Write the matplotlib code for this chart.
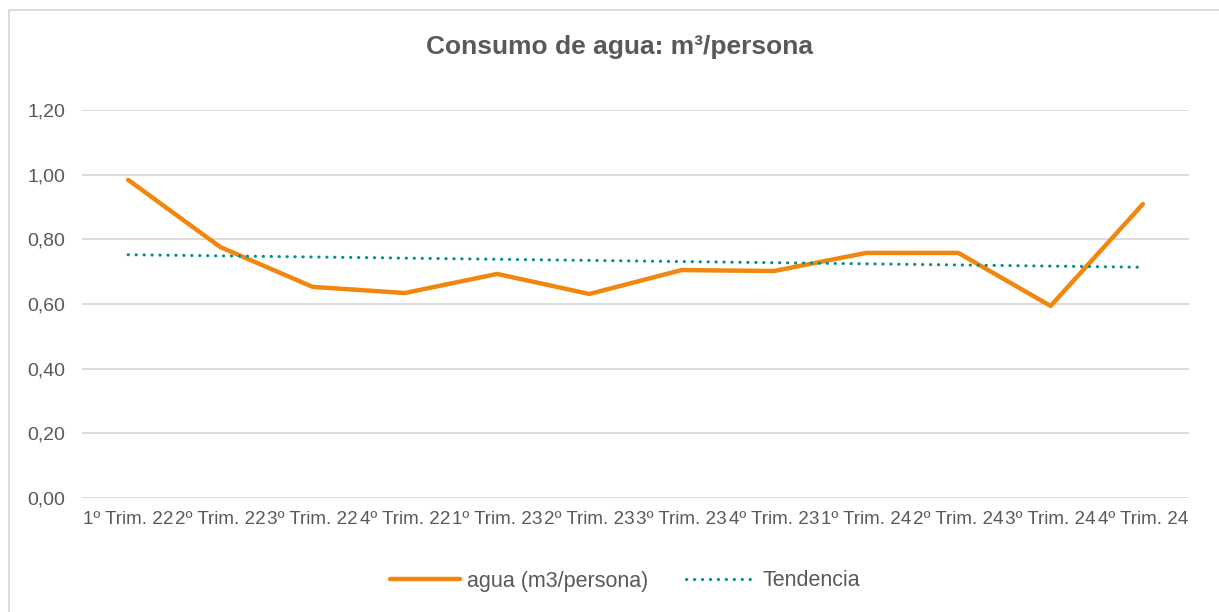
import numpy as np
import matplotlib.pyplot as plt
from matplotlib.patches import Rectangle
from matplotlib.ticker import FuncFormatter

plt.rcParams['font.family'] = ['Liberation Sans', 'DejaVu Sans']

# datos
trimestres = ['1º Trim. 22', '2º Trim. 22', '3º Trim. 22', '4º Trim. 22',
              '1º Trim. 23', '2º Trim. 23', '3º Trim. 23', '4º Trim. 23',
              '1º Trim. 24', '2º Trim. 24', '3º Trim. 24', '4º Trim. 24']
agua = [0.984, 0.776, 0.653, 0.634, 0.693, 0.631, 0.705, 0.702, 0.758, 0.758, 0.594, 0.909]

x = np.arange(len(trimestres))
# linea de tendencia lineal (como Excel)
coef = np.polyfit(x, agua, 1)
tendencia = np.polyval(coef, x)

text_col = '#595959'
fig = plt.figure(figsize=(12.19, 6.12), dpi=100)
ax = fig.add_axes([82/1219, 114/612, (1189-82)/1219, (498-110)/612])

ax.plot(x, agua, color='#F2870F', linewidth=3.2, solid_joinstyle='round',
        solid_capstyle='round', label='agua (m3/persona)', zorder=3)
ax.plot(x, tendencia, color='#00918A', linewidth=2.2, linestyle=(0, (0.1, 2.5)),
        dash_capstyle='round', label='Tendencia', zorder=3)

ax.set_xlim(-0.5, len(trimestres) - 0.5)
ax.set_ylim(0, 1.2)
ax.set_yticks(np.arange(0, 1.21, 0.2))
ax.yaxis.set_major_formatter(FuncFormatter(lambda v, p: '{:.2f}'.format(v).replace('.', ',')))
ax.set_xticks(x)
ax.set_xticklabels(trimestres)
ax.tick_params(axis='both', length=0, labelsize=14, labelcolor=text_col)
ax.tick_params(axis='y', pad=12)
ax.tick_params(axis='x', pad=9, labelsize=13.6)
ax.grid(axis='y', color='#D9D9D9', linewidth=1.3)
ax.set_axisbelow(True)
for s in ax.spines.values():
    s.set_visible(False)

fig.text(620/1219, 1 - 47/612, 'Consumo de agua: m³/persona', ha='center', va='center',
         fontsize=19, fontweight='bold', color=text_col)

fig.legend(loc='center', bbox_to_anchor=(625/1219, 1 - 581/612), ncol=2, frameon=False,
           fontsize=15.5, labelcolor=text_col, handlelength=3.25, columnspacing=1.75,
           handletextpad=0.3)

# borde del grafico
fig.patches.append(Rectangle((9/1219, -0.1), 1.2, 1 - 10/612 + 0.1, transform=fig.transFigure,
                             fill=False, edgecolor='#D9D9D9', linewidth=1.3))

fig.savefig('out.png', dpi=100)
